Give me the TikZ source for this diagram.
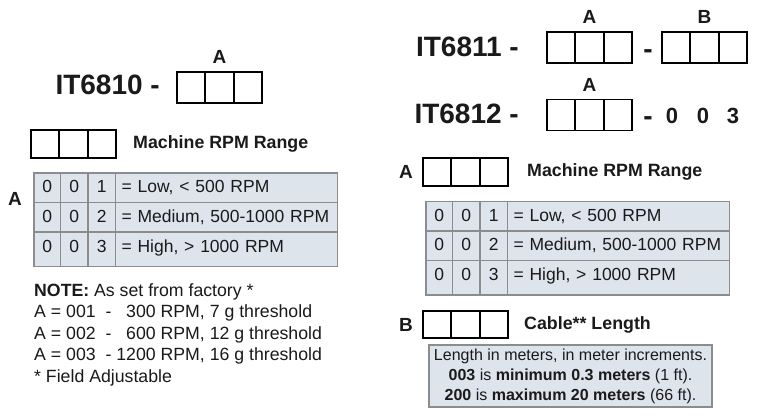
\documentclass[tikz,border=0pt]{standalone}
\usepackage{fontspec}
\setmainfont{Liberation Sans}
\usepackage{xcolor}
\usetikzlibrary{positioning}
\definecolor{cellfill}{HTML}{DDE4EC}
\definecolor{cellline}{HTML}{8C8C8C}
\definecolor{ink}{HTML}{1A1A1A}

\begin{document}
\begin{tikzpicture}[x=1pt,y=-1pt,text=ink,
    box node/.style={draw=black,line width=1.8pt,outer sep=0pt,inner sep=0pt,minimum width=28.33pt,minimum height=31pt},
    key node/.style={box node,minimum height=28pt},
    title node/.style={anchor=base east,inner sep=0pt,font=\fontsize{28}{30}\selectfont\bfseries},
    label node/.style={inner sep=0pt,font=\fontsize{19}{20}\selectfont\bfseries},
    head node/.style={inner sep=0pt,font=\fontsize{17.8}{20}\selectfont\bfseries},
    digit node/.style={anchor=base,inner sep=0pt,font=\fontsize{22}{24}\selectfont\bfseries},
    cell node/.style={draw=cellline,fill=cellfill,line width=1.2pt,outer sep=0pt,inner sep=0pt,minimum height=29.5pt,text height=12.6pt,text depth=3pt,font=\fontsize{17.5}{20}\selectfont},
    wide node/.style={cell node,inner xsep=6pt,text width=210pt,align=left},
    last row/.style={minimum height=34.5pt,text depth=7pt},
    note node/.style={inner sep=0pt,align=left,font=\fontsize{17.7}{21.5}\selectfont},
    cable node/.style={draw=cellline,fill=cellfill,line width=1.2pt,minimum width=283pt,minimum height=62pt,align=center,font=\fontsize{16}{20}\selectfont}]

  \fill[white] (0,0) rectangle (761,416);

  % IT6810
  \node[title node] (t10) at (160,94) {IT6810 -};
  \node[box node] (a1) at (191.2,87.5) {};
  \node[box node] (a2) [right=0pt of a1] {};
  \node[box node] (a3) [right=0pt of a2] {};
  \node[label node] (la) [above=8pt of a2] {A};

  \node[key node] (k1) at (45.2,144) {};
  \node[key node] (k2) [right=0pt of k1] {};
  \node[key node] (k3) [right=0pt of k2] {};
  \node[head node,anchor=west] (kh) [right=17pt of k3] {Machine RPM Range};

  \node[label node] (lta) at (15,199) {A};
  \node[cell node,minimum width=26.5pt] (l11) at (47.25,187.75) {0};
  \node[cell node,minimum width=27.5pt] (l12) [right=0pt of l11] {0};
  \node[cell node,minimum width=27.5pt] (l13) [right=0pt of l12] {1};
  \node[wide node] (l14) [right=0pt of l13] {= Low, < 500 RPM};
  \node[cell node,minimum width=26.5pt] (l21) [below=0pt of l11] {0};
  \node[cell node,minimum width=27.5pt] (l22) [right=0pt of l21] {0};
  \node[cell node,minimum width=27.5pt] (l23) [right=0pt of l22] {2};
  \node[wide node] (l24) [right=0pt of l23] {= Medium, 500-1000 RPM};
  \node[cell node,last row,minimum width=26.5pt] (l31) [below=0pt of l21] {0};
  \node[cell node,last row,minimum width=27.5pt] (l32) [right=0pt of l31] {0};
  \node[cell node,last row,minimum width=27.5pt] (l33) [right=0pt of l32] {3};
  \node[wide node,last row] (l34) [right=0pt of l33] {= High, > 1000 RPM};

  \node[note node,anchor=north west] (note) at (34,283) {\textbf{NOTE:} As set from factory *\\
    A = 001\ \ - \phantom{1}300 RPM, 7 g threshold\\
    A = 002\ \ - \phantom{1}600 RPM, 12 g threshold\\
    A = 003\ \ - 1200 RPM, 16 g threshold\\
    * Field Adjustable};

  % IT6811 / IT6812
  \node[title node] (t11) at (519,56) {IT6811 -};
  \node[box node] (p1) at (561.2,47.5) {};
  \node[box node] (p2) [right=0pt of p1] {};
  \node[box node] (p3) [right=0pt of p2] {};
  \node[label node] (pa) [above=8pt of p2] {A};
  \node[title node,anchor=base] (d11) at (648,58) {-};
  \node[box node] (q1) at (676.2,47.5) {};
  \node[box node] (q2) [right=0pt of q1] {};
  \node[box node] (q3) [right=0pt of q2] {};
  \node[label node] (qb) [above=8pt of q2] {B};

  \node[title node] (t12) at (519,123) {IT6812 -};
  \node[box node] (s1) at (561.2,115) {};
  \node[box node] (s2) [right=0pt of s1] {};
  \node[box node] (s3) [right=0pt of s2] {};
  \node[label node] (sa) [above=8pt of s2] {A};
  \node[title node,anchor=base] (d12) at (648,125) {-};
  \node[digit node] (n1) at (672,123) {0};
  \node[digit node] (n2) at (703,123) {0};
  \node[digit node] (n3) at (733,123) {3};

  \node[key node] (ka1) at (437.2,172) {};
  \node[key node] (ka2) [right=0pt of ka1] {};
  \node[key node] (ka3) [right=0pt of ka2] {};
  \node[label node] (kal) [left=10pt of ka1] {A};
  \node[head node,anchor=west] (kah) [right=19pt of ka3] {Machine RPM Range};

  \node[cell node,minimum width=26.5pt] (r11) at (439.25,216.25) {0};
  \node[cell node,minimum width=27.5pt] (r12) [right=0pt of r11] {0};
  \node[cell node,minimum width=27.5pt] (r13) [right=0pt of r12] {1};
  \node[wide node] (r14) [right=0pt of r13] {= Low, < 500 RPM};
  \node[cell node,minimum width=26.5pt] (r21) [below=0pt of r11] {0};
  \node[cell node,minimum width=27.5pt] (r22) [right=0pt of r21] {0};
  \node[cell node,minimum width=27.5pt] (r23) [right=0pt of r22] {2};
  \node[wide node] (r24) [right=0pt of r23] {= Medium, 500-1000 RPM};
  \node[cell node,last row,minimum width=26.5pt] (r31) [below=0pt of r21] {0};
  \node[cell node,last row,minimum width=27.5pt] (r32) [right=0pt of r31] {0};
  \node[cell node,last row,minimum width=27.5pt] (r33) [right=0pt of r32] {3};
  \node[wide node,last row] (r34) [right=0pt of r33] {= High, > 1000 RPM};

  \node[key node,minimum height=27pt] (kb1) at (437.2,324.5) {};
  \node[key node,minimum height=27pt] (kb2) [right=0pt of kb1] {};
  \node[key node,minimum height=27pt] (kb3) [right=0pt of kb2] {};
  \node[label node] (kbl) [left=10pt of kb1] {B};
  \node[head node,anchor=west] (kbh) [right=16pt of kb3] {Cable** Length};

  \node[cable node] (cable) at (570.5,376) {Length in meters, in meter increments.\\
    \textbf{003} is \textbf{minimum 0.3 meters} (1 ft).\\
    \textbf{200} is \textbf{maximum 20 meters} (66 ft).};

\end{tikzpicture}
\end{document}
